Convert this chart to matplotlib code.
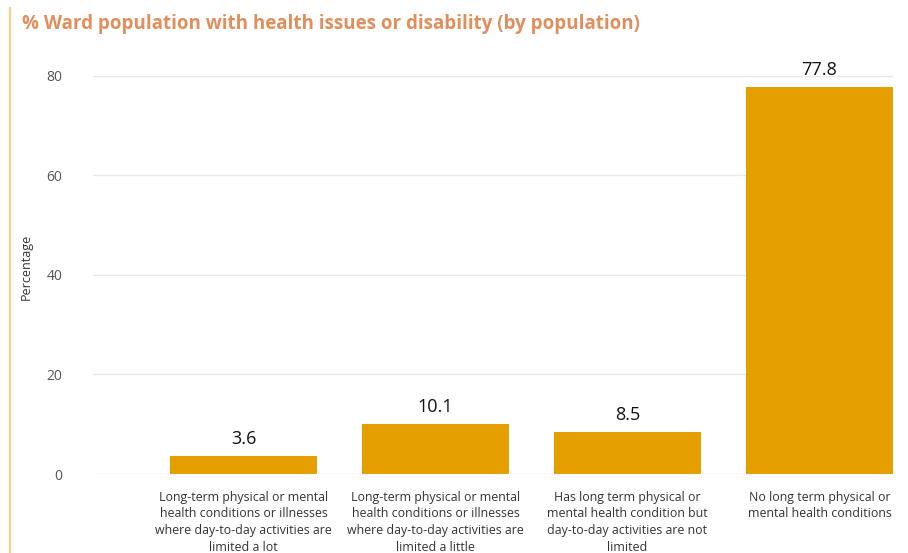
import matplotlib.pyplot as plt
from matplotlib.lines import Line2D

plt.rcParams['font.family'] = ['Open Sans', 'DejaVu Sans']

# data
categories = [
    "Long-term physical or mental\nhealth conditions or illnesses\nwhere day-to-day activities are\nlimited a lot",
    "Long-term physical or mental\nhealth conditions or illnesses\nwhere day-to-day activities are\nlimited a little",
    "Has long term physical or\nmental health condition but\nday-to-day activities are not\nlimited",
    "No long term physical or\nmental health conditions",
]
values = [3.6, 10.1, 8.5, 77.8]
yticks = [0, 20, 40, 60, 80]

fig = plt.figure(figsize=(9.08, 5.53), dpi=100)
ax = fig.add_axes([93 / 908, 1 - 474 / 553, 800 / 908, 414 / 553])

x = range(len(categories))
bars = ax.bar(x, values, width=0.766, color='#E5A000', zorder=3)
for b, v in zip(bars, values):
    ax.text(b.get_x() + b.get_width() / 2, v + 1.6, f"{v:.1f}",
            ha='center', va='bottom', fontsize=13, color='#111111')

ax.set_xlim(-0.784, 3.383)
ax.set_ylim(0, 83.2)
ax.set_yticks(yticks)
ax.set_xticks(list(x))
ax.set_xticklabels(categories, fontsize=8.9, color='#333333', linespacing=1.38, va='top')
ax.tick_params(axis='x', length=0, pad=12)
ax.tick_params(axis='y', length=0, pad=22, labelsize=10, labelcolor='#555555')
ax.grid(axis='y', color='#E8E8E8', linewidth=1, zorder=0)
for s in ax.spines.values():
    s.set_visible(False)
ax.set_ylabel('Percentage', fontsize=9, color='#333333', labelpad=10)

# title and left accent line
fig.text(22 / 908, 1 - 24 / 553, '% Ward population with health issues or disability (by population)',
         fontsize=13.5, fontweight='bold', color='#E08E5C', va='center', ha='left')
fig.add_artist(Line2D([10 / 908, 10 / 908], [0, 1 - 8 / 553], transform=fig.transFigure,
                      color='#F9CC85', linewidth=1.5))

fig.savefig('out.png', dpi=100)
